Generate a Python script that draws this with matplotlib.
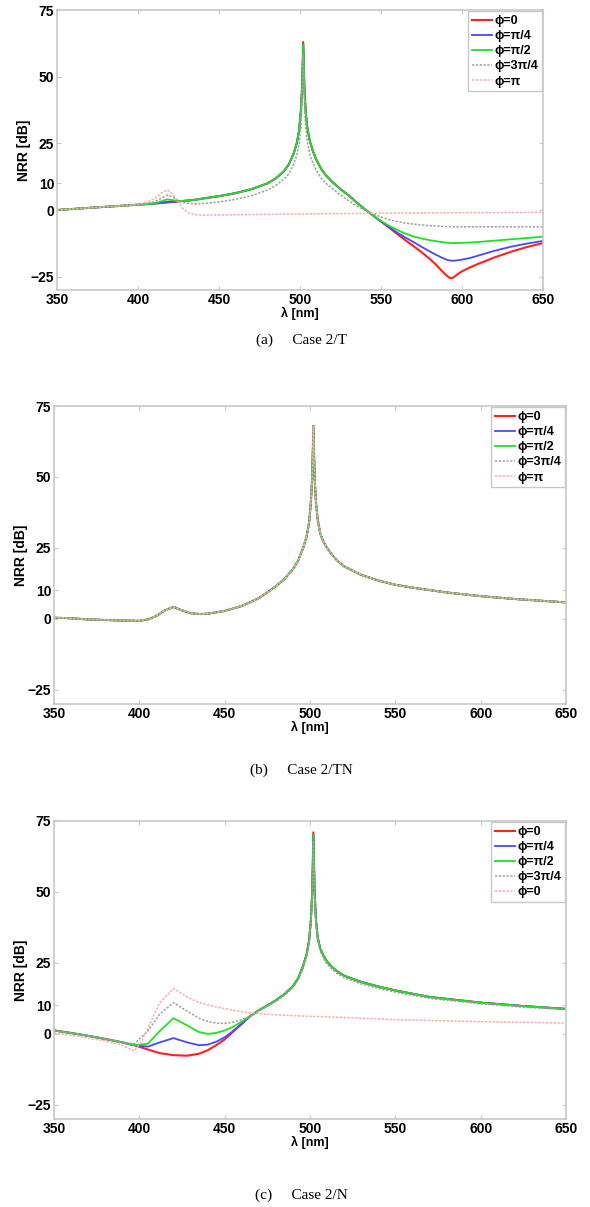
import matplotlib
matplotlib.use("Agg")
import matplotlib.pyplot as plt
import numpy as np

plt.rcParams['font.family'] = ['Liberation Sans', 'DejaVu Sans']
plt.rcParams['font.weight'] = 'bold'

# ---- Case 2/T ----
lam_t = [350, 360, 370, 380, 390, 400,
         405, 410, 414, 418, 421, 425, 428, 432, 436, 440,
         450, 460, 470, 480, 485, 490, 493, 496, 498,
         499.5, 500.5, 501.3, 502, 502.7, 503.5, 504.5, 506, 508, 510,
         513, 516, 520, 525, 530, 535, 540, 545, 550, 555,
         560, 565, 570, 575, 580, 584, 587, 590, 592, 593.5,
         595, 597, 600, 605, 610, 620, 630, 640, 650]
t_phi0 = [0, 0.4, 0.8, 1.2, 1.6, 2.0,
          2.2, 2.4, 2.6, 2.8, 3.0, 3.2, 3.4, 3.6, 3.9, 4.3,
          5.2, 6.3, 7.8, 10, 11.8, 14.5, 17, 21, 25,
          30, 37, 46, 63, 46, 37, 31, 26, 22, 19,
          15.5, 13, 10.5, 7.8, 5.5, 2.8, 0.3, -2, -4.3, -6.6,
          -9, -11.3, -13.5, -15.8, -18.3, -20.5, -22.5, -24.3, -25.3, -25.6,
          -25.2, -24.2, -23, -21.5, -20.2, -17.8, -15.7, -13.9, -12.4]
t_phi1 = [0, 0.4, 0.8, 1.2, 1.6, 2.0,
          2.2, 2.4, 2.7, 3.1, 3.1, 3.2, 3.4, 3.6, 3.9, 4.3,
          5.2, 6.3, 7.8, 10, 11.8, 14.5, 17, 21, 25,
          30, 37, 46, 62, 46, 37, 31, 26, 22, 19,
          15.5, 13, 10.5, 7.8, 5.5, 2.8, 0.3, -2, -4.3, -6.4,
          -8.5, -10.3, -12, -13.8, -15.5, -16.8, -17.7, -18.5, -18.9, -19,
          -19, -18.9, -18.6, -18, -17.1, -15.3, -13.8, -12.6, -11.6]
t_phi2 = [0, 0.4, 0.8, 1.2, 1.6, 2.0,
          2.2, 2.4, 3.2, 4.0, 3.7, 3.4, 3.4, 3.6, 3.9, 4.3,
          5.2, 6.3, 7.8, 10, 11.8, 14.5, 17, 21, 25,
          30, 37, 46, 62, 46, 37, 31, 26, 22, 19,
          15.5, 13, 10.5, 7.8, 5.5, 2.8, 0.3, -2.0, -4.1, -5.9,
          -7.5, -8.8, -9.9, -10.7, -11.3, -11.7, -12, -12.2, -12.3, -12.4,
          -12.4, -12.4, -12.3, -12.2, -12, -11.5, -11, -10.5, -10]
t_phi3 = [0, 0.4, 0.8, 1.2, 1.6, 2.0,
          2.4, 3.0, 4.3, 5.6, 5.0, 3.6, 2.8, 2.4, 2.3, 2.4,
          3.0, 4.0, 5.3, 7.5, 9.2, 11.5, 13.5, 17, 20.5,
          25, 31, 40, 58, 40, 31, 25.5, 21, 17.5, 15,
          12, 10, 8, 5.6, 3.5, 1.5, 0, -1.4, -2.6, -3.6,
          -4.3, -4.9, -5.3, -5.6, -5.9, -6.0, -6.1, -6.2, -6.2, -6.25,
          -6.3, -6.3, -6.3, -6.3, -6.3, -6.3, -6.3, -6.3, -6.3]
lam_t_pi = [350, 370, 390, 400, 405, 410, 414, 418, 421, 425, 428, 432, 436, 440, 460, 500, 550, 600, 650]
t_phi4 = [0, 0.8, 1.6, 2.1, 2.8, 4.2, 6.2, 7.5, 6.3, 2.8, 0.3, -1.3, -1.8, -1.9, -1.8, -1.5, -1.2, -1.0, -0.9]

# ---- Case 2/TN (all phases coincide) ----
lam_tn = [350, 360, 370, 380, 390, 400, 405, 410, 415, 420, 425, 430, 435, 440, 450,
          460, 470, 475, 480, 485, 490, 493, 496, 498, 499.5, 500.5, 501.3, 502, 502.7, 503.5,
          504.5, 506, 508, 510, 513, 516, 520, 530, 540, 550, 560, 580, 600, 620, 650]
tn_all = [0.4, 0.2, -0.2, -0.4, -0.6, -0.7, -0.2, 1.0, 3.0, 4.2, 3.0, 2.0, 1.7, 1.8, 2.8,
          4.5, 7.3, 9.3, 11.5, 14, 17.5, 20.5, 25, 29, 34, 41, 50, 68, 50, 41,
          35, 30, 27, 25, 22.5, 20.5, 18.5, 15.5, 13.5, 12, 11, 9.3, 8, 7, 5.8]

# ---- Case 2/N ----
lam_n = [350, 360, 370, 380, 390, 397, 405, 412, 420, 428,
         435, 440, 445, 450, 455, 460, 465, 470, 475, 480,
         485, 490, 493, 496, 498, 499.5, 500.5, 501.3, 502, 502.7,
         503.5, 504.5, 506, 508, 510, 513, 516, 520, 530, 540,
         550, 570, 600, 625, 650]
n_phi0 = [1.2, 0.3, -0.7, -1.8, -3, -4, -5.5, -6.8, -7.5, -7.7,
          -7, -5.8, -4, -2, 0.8, 3.5, 6.3, 8.3, 10, 11.8,
          14, 16.8, 19.5, 24, 28, 33, 40, 50, 71, 50,
          40, 34, 30, 27.5, 25.5, 23.5, 22, 20.5, 18.3, 16.7,
          15.3, 13, 11, 9.8, 8.8]
n_phi1 = [1.2, 0.3, -0.7, -1.8, -3, -4, -4.5, -3, -1.5, -3,
          -4, -3.8, -2.8, -1.2, 1.0, 3.6, 6.3, 8.3, 10, 11.8,
          14, 16.8, 19.5, 24, 28, 33, 40, 50, 70, 50,
          40, 34, 30, 27.5, 25.5, 23.5, 22, 20.5, 18.3, 16.7,
          15.3, 13, 11, 9.8, 8.8]
n_phi2 = [1.2, 0.3, -0.7, -1.8, -3, -4, -3.5, 1, 5.5, 3,
          0.6, 0, 0.3, 1.2, 2.5, 4.3, 6.3, 8.3, 10, 11.8,
          14, 16.8, 19.5, 24, 28, 33, 40, 50, 70, 50,
          40, 34, 30, 27.5, 25.5, 23.5, 22, 20.5, 18.3, 16.7,
          15.3, 13, 11, 9.8, 8.8]
n_phi3 = [1.2, 0.3, -0.7, -1.8, -3, -3.5, 1, 7, 11, 8,
          5.5, 4.4, 3.8, 3.7, 4.1, 5, 6.3, 8.1, 9.7, 11.4,
          13.5, 16.2, 18.8, 23, 27, 32, 38.5, 48, 68, 48,
          38.5, 33, 29, 26.5, 24.5, 22.7, 21.2, 19.8, 17.6, 16,
          14.7, 12.5, 10.6, 9.4, 8.5]
lam_n_pi = [350, 360, 370, 380, 390, 397, 401, 405, 412, 420, 428, 435, 445, 455, 465, 475, 490, 510, 550, 600, 650]
n_phi4 = [0.3, -0.5, -1.5, -2.5, -4, -6, -3, 2, 11, 16, 13, 11, 9.5, 8.3, 7.4, 6.9, 6.4, 6.0, 5.0, 4.3, 3.8]

labels_t = ['ϕ=0', 'ϕ=π/4', 'ϕ=π/2', 'ϕ=3π/4', 'ϕ=π']
labels_n = ['ϕ=0', 'ϕ=π/4', 'ϕ=π/2', 'ϕ=3π/4', 'ϕ=0']
colors = ['#ff2020', '#4848ff', '#20e020', '#a0a0a0', '#ffa8a8']
widths = [1.5, 1.3, 1.3, 1.1, 1.1]
styles = ['-', '-', '-', (0, (1.5, 1)), (0, (1.5, 1))]

yticks = [-25, 0, 10, 25, 50, 75]
xticks = [350, 400, 450, 500, 550, 600, 650]
spine_col = '#c8c8c8'


def style_axes(ax):
    ax.set_xlim(350, 650)
    ax.set_ylim(-30, 75)
    ax.set_xticks(xticks)
    ax.set_yticks(yticks)
    ax.tick_params(direction='in', length=3, color=spine_col, labelsize=10,
                   top=True, right=True, pad=2)
    for s in ax.spines.values():
        s.set_color(spine_col)
        s.set_linewidth(1.2)
    for lbl in ax.get_xticklabels() + ax.get_yticklabels():
        lbl.set_fontweight('bold')
    ax.set_xlabel('λ [nm]', fontsize=9, fontweight='bold', labelpad=0)
    ax.set_ylabel('NRR [dB]', fontsize=10, fontweight='bold', labelpad=0)


def draw(ax, curves, labels):
    for (lam, y), lab, c, w, ls in zip(curves, labels, colors, widths, styles):
        ax.plot(lam, y, color=c, lw=w, ls=ls, label=lab)
    leg = ax.legend(loc='upper right', fontsize=9, handlelength=1.6, handletextpad=0.2,
                    borderaxespad=0.1, borderpad=0.3, labelspacing=0.25, fancybox=False,
                    edgecolor=spine_col, framealpha=1)
    for t in leg.get_texts():
        t.set_fontweight('bold')
    style_axes(ax)


fig = plt.figure(figsize=(5.9, 12.07), dpi=100)
H = 1207.0
W = 590.0

ax1 = fig.add_axes([57 / W, 1 - 290 / H, (543 - 57) / W, 280 / H])
draw(ax1, [(lam_t, t_phi0), (lam_t, t_phi1), (lam_t, t_phi2), (lam_t, t_phi3), (lam_t_pi, t_phi4)],
     labels_t)

ax2 = fig.add_axes([54 / W, 1 - 704 / H, 512 / W, 298 / H])
draw(ax2, [(lam_tn, tn_all)] * 5, labels_t)

ax3 = fig.add_axes([54 / W, 1 - 1119 / H, 512 / W, 298 / H])
draw(ax3, [(lam_n, n_phi0), (lam_n, n_phi1), (lam_n, n_phi2), (lam_n, n_phi3), (lam_n_pi, n_phi4)],
     labels_n)

cap_font = dict(family='Liberation Serif', fontsize=11, fontweight='normal', ha='center', va='center')
fig.text(301 / W, 1 - 340 / H, '(a)     Case 2/T', **cap_font)
fig.text(301 / W, 1 - 770 / H, '(b)     Case 2/TN', **cap_font)
fig.text(301 / W, 1 - 1195 / H, '(c)     Case 2/N', **cap_font)

fig.savefig('out.png', dpi=100)
